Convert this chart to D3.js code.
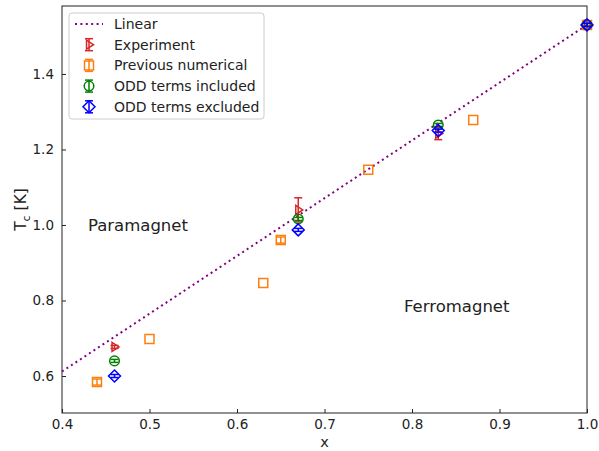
<!DOCTYPE html>
<html>
<head>
<meta charset="utf-8">
<script src="https://cdn.jsdelivr.net/npm/d3@7"></script>
<style>
  body { margin: 0; background: #fff; }
  text { font-family: "DejaVu Sans", sans-serif; }
</style>
</head>
<body>
<div id="chart"></div>
<script>
// Linear fit Tc = 1.53 x, drawn over the plotted range
const linearX = [0.4, 1.0];
const linearY = [0.612, 1.53];

// Experiment (with error bars)
const expX = [0.46, 0.67, 0.83, 1.0];
const expY = [0.677, 1.04, 1.242, 1.53];
const expErr = [0.004, 0.032, 0.016, 0.004];

// Previous numerical
const prevX = [0.44, 0.50, 0.63, 0.65, 0.75, 0.87, 1.0];
const prevY = [0.584, 0.698, 0.846, 0.96, 1.146, 1.278, 1.53];
const prevErr = [0.008, 0, 0, 0.008, 0, 0, 0];

// ODD terms included
const inclX = [0.46, 0.67, 0.83, 1.0];
const inclY = [0.64, 1.016, 1.265, 1.53];
const inclErr = [0.004, 0.004, 0.004, 0.004];

// ODD terms excluded
const exclX = [0.46, 0.67, 0.83, 1.0];
const exclY = [0.6, 0.987, 1.25, 1.53];
const exclErr = [0.004, 0.004, 0.004, 0.004];

const xTicks = [0.4, 0.5, 0.6, 0.7, 0.8, 0.9, 1.0];
const yTicks = [0.6, 0.8, 1.0, 1.2, 1.4];

const width = 599, height = 451;
const margin = { top: 6, right: 12, bottom: 38, left: 62 };

const svg = d3.select('#chart').append('svg')
  .attr('width', width)
  .attr('height', height);

const x = d3.scaleLinear().domain([0.4, 1.0]).range([margin.left, width - margin.right]);
const y = d3.scaleLinear().domain([0.502, 1.58]).range([height - margin.bottom, margin.top]);

// Axes with inward ticks
const xAxis = svg.append('g')
  .attr('transform', `translate(0,${height - margin.bottom})`)
  .call(d3.axisBottom(x).tickValues(xTicks).tickFormat(d3.format('.1f'))
    .tickSizeInner(-4).tickSizeOuter(0).tickPadding(6));
const yAxis = svg.append('g')
  .attr('transform', `translate(${margin.left},0)`)
  .call(d3.axisLeft(y).tickValues(yTicks).tickFormat(d3.format('.1f'))
    .tickSizeInner(-4).tickSizeOuter(0).tickPadding(8));
[xAxis, yAxis].forEach(a => {
  a.select('.domain').remove();
  a.selectAll('text').style('font-size', '13.5px').style('fill', '#222');
  a.selectAll('line').style('stroke', '#222');
});

// Frame
svg.append('rect')
  .attr('x', margin.left).attr('y', margin.top)
  .attr('width', width - margin.left - margin.right)
  .attr('height', height - margin.top - margin.bottom)
  .style('fill', 'none').style('stroke', '#222').style('stroke-width', 1);

// Linear line
svg.append('path')
  .datum(linearX.map((v, i) => [v, linearY[i]]))
  .attr('d', d3.line().x(d => x(d[0])).y(d => y(d[1])))
  .style('fill', 'none')
  .style('stroke', 'purple')
  .style('stroke-width', 2)
  .style('stroke-dasharray', '2,3.4');

// Marker shapes
function markerPath(shape, s) {
  if (shape === 'tri') return `M${-s * 0.55},${-s}L${s},0L${-s * 0.55},${s}Z`;
  if (shape === 'square') return `M${-s},${-s}H${s}V${s}H${-s}Z`;
  if (shape === 'diamond') return `M0,${-s * 1.3}L${s * 1.3},0L0,${s * 1.3}L${-s * 1.3},0Z`;
  return d3.arc()({ innerRadius: 0, outerRadius: s, startAngle: 0, endAngle: 2 * Math.PI });
}

function drawSeries(xs, ys, errs, color, shape, size) {
  const data = xs.map((v, i) => ({ x: v, y: ys[i], e: errs[i] }));
  const g = svg.append('g');
  // Error bars
  g.selectAll('line.err').data(data).enter().append('line')
    .attr('x1', d => x(d.x)).attr('x2', d => x(d.x))
    .attr('y1', d => y(d.y - d.e)).attr('y2', d => y(d.y + d.e))
    .style('stroke', color).style('stroke-width', 1.5);
  g.selectAll('line.cap-top').data(data.filter(d => d.e > 0)).enter().append('line')
    .attr('x1', d => x(d.x) - 4).attr('x2', d => x(d.x) + 4)
    .attr('y1', d => y(d.y + d.e)).attr('y2', d => y(d.y + d.e))
    .style('stroke', color).style('stroke-width', 1.5);
  g.selectAll('line.cap-bot').data(data.filter(d => d.e > 0)).enter().append('line')
    .attr('x1', d => x(d.x) - 4).attr('x2', d => x(d.x) + 4)
    .attr('y1', d => y(d.y - d.e)).attr('y2', d => y(d.y - d.e))
    .style('stroke', color).style('stroke-width', 1.5);
  // Hollow markers
  g.selectAll('path').data(data).enter().append('path')
    .attr('transform', d => `translate(${x(d.x)},${y(d.y)})`)
    .attr('d', markerPath(shape, size))
    .style('fill', 'none').style('stroke', color).style('stroke-width', 1.5);
}

drawSeries(expX, expY, expErr, '#d62728', 'tri', 4.5);
drawSeries(prevX, prevY, prevErr, '#ff7f0e', 'square', 4.5);
drawSeries(inclX, inclY, inclErr, 'green', 'circle', 4.8);
drawSeries(exclX, exclY, exclErr, 'blue', 'diamond', 4.6);

// Region labels
svg.append('text').attr('x', 88).attr('y', 231)
  .style('font-size', '16.5px').style('fill', '#222').text('Paramagnet');
svg.append('text').attr('x', 404).attr('y', 312)
  .style('font-size', '16.5px').style('fill', '#222').text('Ferromagnet');

// Axis labels
svg.append('text')
  .attr('x', (margin.left + width - margin.right) / 2)
  .attr('y', 447)
  .style('text-anchor', 'middle').style('font-size', '14.5px').style('fill', '#222')
  .text('x');
const yl = svg.append('text')
  .attr('transform', `translate(26,${(margin.top + height - margin.bottom) / 2}) rotate(-90)`)
  .style('text-anchor', 'middle').style('font-size', '15.5px').style('fill', '#222');
yl.append('tspan').text('T');
yl.append('tspan').attr('dy', 4).style('font-size', '11px').text('c');
yl.append('tspan').attr('dy', -4).text(' [K]');

// Legend
const legendItems = [
  { label: 'Linear', color: 'purple', shape: 'line' },
  { label: 'Experiment', color: '#d62728', shape: 'tri' },
  { label: 'Previous numerical', color: '#ff7f0e', shape: 'square' },
  { label: 'ODD terms included', color: 'green', shape: 'circle' },
  { label: 'ODD terms excluded', color: 'blue', shape: 'diamond' }
];
const legend = svg.append('g').attr('transform', 'translate(69,13)');
legend.append('rect')
  .attr('width', 195).attr('height', 106).attr('rx', 3)
  .style('fill', 'white').style('fill-opacity', 0.8)
  .style('stroke', '#ccc').style('stroke-width', 1);
legendItems.forEach((item, i) => {
  const gy = 11 + i * 20.7;
  const g = legend.append('g').attr('transform', `translate(0,${gy})`);
  if (item.shape === 'line') {
    g.append('line').attr('x1', 6).attr('x2', 34).attr('y1', 0).attr('y2', 0)
      .style('stroke', item.color).style('stroke-width', 2).style('stroke-dasharray', '2,3.4');
  } else {
    const cx = 20;
    g.append('line').attr('x1', cx).attr('x2', cx).attr('y1', -6).attr('y2', 6)
      .style('stroke', item.color).style('stroke-width', 1.5);
    [-6, 6].forEach(cy => g.append('line').attr('x1', cx - 4).attr('x2', cx + 4)
      .attr('y1', cy).attr('y2', cy).style('stroke', item.color).style('stroke-width', 1.5));
    const sz = item.shape === 'diamond' ? 4.6 : (item.shape === 'circle' ? 4.8 : 4.5);
    g.append('path').attr('transform', `translate(${cx},0)`)
      .attr('d', markerPath(item.shape, sz))
      .style('fill', 'none').style('stroke', item.color).style('stroke-width', 1.5);
  }
  g.append('text').attr('x', 45).attr('y', 0).attr('dy', '0.35em')
    .style('font-size', '14px').style('fill', '#222').text(item.label);
});
</script>
</body>
</html>
